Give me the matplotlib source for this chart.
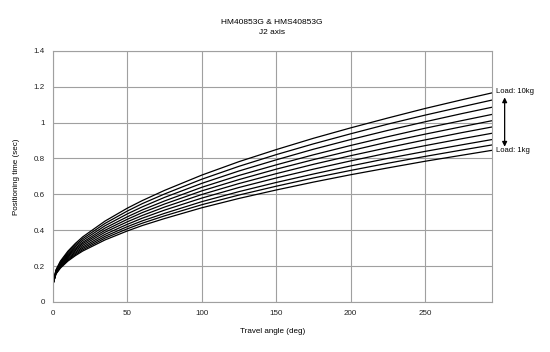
import matplotlib
matplotlib.use("Agg")
import matplotlib.pyplot as plt

plt.rcParams['font.family'] = ['Liberation Sans', 'DejaVu Sans']

angle = [0, 2, 5, 10, 15, 20, 35, 50, 60, 75, 100, 125, 150, 175, 200, 225, 250, 275, 295]
load_10kg = [0.1, 0.179, 0.228, 0.283, 0.326, 0.363, 0.451, 0.523, 0.565, 0.622, 0.707, 0.782, 0.849, 0.912, 0.970, 1.025, 1.078, 1.127, 1.165]
load_9kg = [0.1, 0.176, 0.223, 0.276, 0.317, 0.353, 0.438, 0.507, 0.548, 0.602, 0.684, 0.756, 0.821, 0.881, 0.937, 0.991, 1.041, 1.088, 1.125]
load_8kg = [0.1, 0.173, 0.218, 0.269, 0.309, 0.343, 0.425, 0.491, 0.530, 0.583, 0.661, 0.730, 0.792, 0.851, 0.905, 0.956, 1.004, 1.050, 1.085]
load_7kg = [0.1, 0.170, 0.213, 0.263, 0.300, 0.333, 0.412, 0.475, 0.513, 0.563, 0.639, 0.705, 0.764, 0.820, 0.872, 0.921, 0.968, 1.011, 1.045]
load_6kg = [0.1, 0.168, 0.209, 0.257, 0.293, 0.325, 0.400, 0.461, 0.498, 0.546, 0.619, 0.682, 0.740, 0.793, 0.843, 0.891, 0.935, 0.977, 1.010]
load_5kg = [0.1, 0.165, 0.205, 0.251, 0.286, 0.316, 0.389, 0.447, 0.482, 0.529, 0.599, 0.660, 0.715, 0.767, 0.815, 0.860, 0.903, 0.944, 0.975]
load_4kg = [0.1, 0.163, 0.201, 0.244, 0.278, 0.307, 0.377, 0.433, 0.467, 0.512, 0.579, 0.638, 0.691, 0.740, 0.786, 0.830, 0.871, 0.910, 0.940]
load_3kg = [0.1, 0.160, 0.197, 0.238, 0.271, 0.299, 0.366, 0.420, 0.452, 0.494, 0.559, 0.615, 0.666, 0.713, 0.758, 0.800, 0.839, 0.876, 0.905]
load_2kg = [0.1, 0.158, 0.193, 0.233, 0.264, 0.291, 0.356, 0.408, 0.439, 0.480, 0.542, 0.596, 0.645, 0.691, 0.733, 0.773, 0.811, 0.847, 0.875]
load_1kg = [0.1, 0.156, 0.189, 0.228, 0.258, 0.284, 0.346, 0.396, 0.426, 0.465, 0.525, 0.577, 0.624, 0.668, 0.709, 0.747, 0.784, 0.818, 0.845]

series = [load_10kg, load_9kg, load_8kg, load_7kg, load_6kg,
          load_5kg, load_4kg, load_3kg, load_2kg, load_1kg]

x_ticks = [0, 50, 100, 150, 200, 250]
y_ticks = [0, 0.2, 0.4, 0.6, 0.8, 1.0, 1.2, 1.4]
y_tick_labels = ['0', '0.2', '0.4', '0.6', '0.8', '1', '1.2', '1.4']

fig = plt.figure(figsize=(5.5, 3.52), dpi=100)
ax = fig.add_axes([53/550, 1 - 302/352, (492 - 53)/550, (302 - 50.7)/352])

for s in series:
    ax.plot(angle, s, color='black', lw=0.9, solid_joinstyle='round')

ax.set_xlim(0, 295)
ax.set_ylim(0, 1.4)
ax.set_xticks(x_ticks)
ax.set_yticks(y_ticks)
ax.set_yticklabels(y_tick_labels)
ax.tick_params(length=0, labelsize=5.8, pad=6, colors='#222222')
ax.grid(True, color='#a0a0a0', lw=0.8)
ax.set_axisbelow(True)
for sp in ax.spines.values():
    sp.set_color('#a0a0a0')
    sp.set_linewidth(0.8)

ax.set_xlabel('Travel angle (deg)', fontsize=5.8, labelpad=8)
ax.set_ylabel('Positioning time (sec)', fontsize=5.8, labelpad=10)

fig.text(272, 352 - 22, 'HM40853G & HMS40853G', transform=None, fontsize=6,
         ha='center', va='center')
fig.text(272, 352 - 32, 'J2 axis', transform=None, fontsize=6,
         ha='center', va='center')

ax.text(297.5, 1.17, 'Load: 10kg', fontsize=5.5, ha='left', va='center', clip_on=False)
ax.text(297.5, 0.845, 'Load: 1kg', fontsize=5.5, ha='left', va='center', clip_on=False)
ax.annotate('', xy=(303.5, 1.14), xytext=(303.5, 0.865), annotation_clip=False,
            arrowprops=dict(arrowstyle='<|-|>', color='black', lw=0.9,
                            mutation_scale=7, shrinkA=0, shrinkB=0))

fig.savefig('out.png', dpi=100)
